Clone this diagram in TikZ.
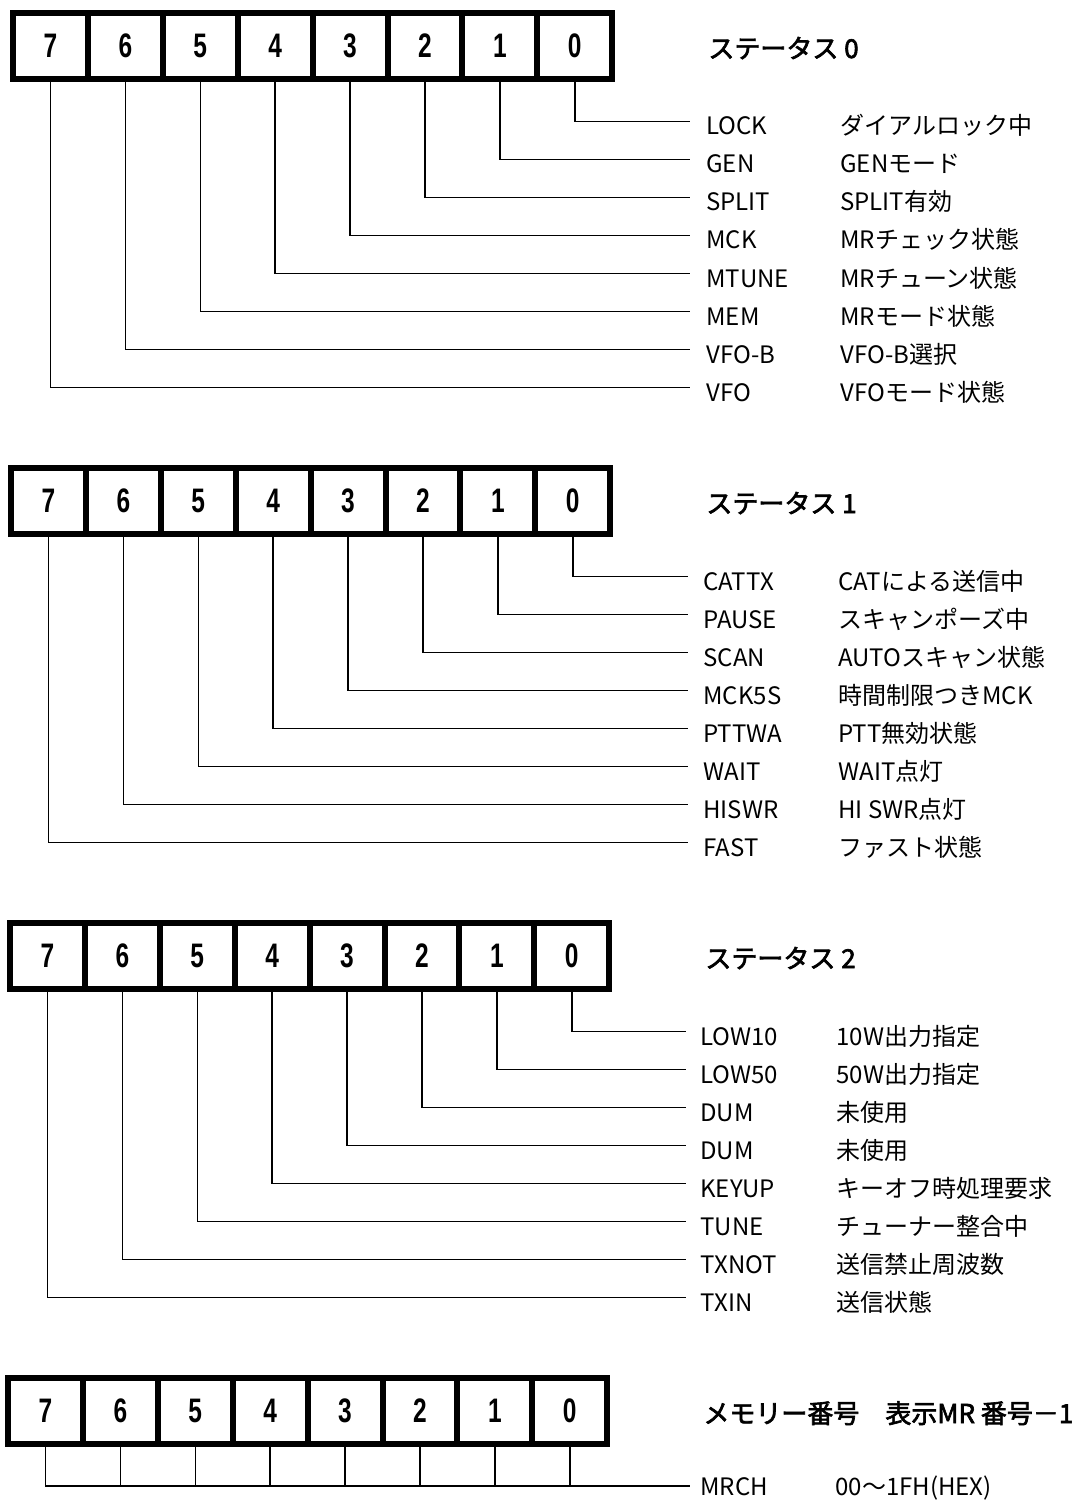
\documentclass[tikz,border=0pt]{standalone}
\usepackage{fontspec}
\setmainfont{Noto Sans CJK JP}[AutoFakeBold=2.5]
\newfontfamily\digitfont{Liberation Sans}[FakeStretch=0.72]
\tikzset{
  bitcell/.style={draw, line width=3pt, minimum width=37.45pt, minimum height=33pt,
    inner sep=0pt, outer sep=0pt, font=\digitfont\bfseries\fontsize{17}{17}\selectfont},
  leader/.style={line width=0.75pt},
  namelbl/.style={anchor=base west, inner sep=0pt, font=\fontsize{12}{12}\selectfont},
  desclbl/.style={namelbl},
  titlelbl/.style={anchor=base west, inner sep=0pt, font=\bfseries\fontsize{13}{13}\selectfont},
}
% register cells: id, left, top
\newcommand\myregcells[3]{%
  \foreach \i in {0,...,7} {
    \node[bitcell] (c#1-\i) at ({#2+3+74.9*(7.5-\i)}, {#3+36}) {\i};
  }%
}
% labels: id, top, namex, descx, endx, list
\newcommand\myreglabels[6]{%
  \foreach \i/\nm/\ds in {#6} {
    \coordinate (e#1-\i) at (#5, {#2+111.5+38*\i});
    \node[namelbl] (n#1-\i) at (#3, {#2+125+38*\i}) {\nm};
    \node[desclbl] (d#1-\i) at (#4, {#2+125+38*\i}) {\ds};
    \draw[leader] (c#1-\i.south) |- (e#1-\i);
  }%
}
\begin{document}
\begin{tikzpicture}[x=0.5pt,y=-0.5pt]
\useasboundingbox (0,0) rectangle (1083,1503);
\fill[white] (0,0) rectangle (1083,1503);

% ---- Status 0
\myregcells{0}{10}{10}
\node[titlelbl] (t0) at (708,58) {ステータス 0};
\myreglabels{0}{10}{706}{840}{690}{0/LOCK/ダイアルロック中, 1/GEN/GENモード, 2/SPLIT/SPLIT有効, 3/MCK/MRチェック状態, 4/MTUNE/MRチューン状態, 5/MEM/MRモード状態, 6/VFO-B/VFO-B選択, 7/VFO/VFOモード状態}

% ---- Status 1
\myregcells{1}{8}{465}
\node[titlelbl] (t1) at (706,513) {ステータス 1};
\myreglabels{1}{465}{703}{838}{688}{0/CATTX/CATによる送信中, 1/PAUSE/スキャンポーズ中, 2/SCAN/AUTOスキャン状態, 3/MCK5S/時間制限つきMCK, 4/PTTWA/PTT無効状態, 5/WAIT/WAIT点灯, 6/HISWR/HI SWR点灯, 7/FAST/ファスト状態}

% ---- Status 2
\myregcells{2}{7}{920}
\node[titlelbl] (t2) at (705,968) {ステータス 2};
\myreglabels{2}{920}{700}{836}{686}{0/LOW10/10W出力指定, 1/LOW50/50W出力指定, 2/DUM/未使用, 3/DUM/未使用, 4/KEYUP/キーオフ時処理要求, 5/TUNE/チューナー整合中, 6/TXNOT/送信禁止周波数, 7/TXIN/送信状態}

% ---- Memory number
\myregcells{3}{5}{1375}
\node[titlelbl] (t3) at (703,1423) {メモリー番号　表示MR 番号－1};
\coordinate (e3) at (690,1486);
\node[namelbl] (n3) at (700,1495) {MRCH};
\node[desclbl] (d3) at (835,1495) {00〜1FH(HEX)};
\draw[leader] (c3-7.south) |- (e3);
\foreach \i in {0,...,6} {
  \draw[leader] (c3-\i.south) -- (c3-\i.south |- e3);
}
\end{tikzpicture}
\end{document}
